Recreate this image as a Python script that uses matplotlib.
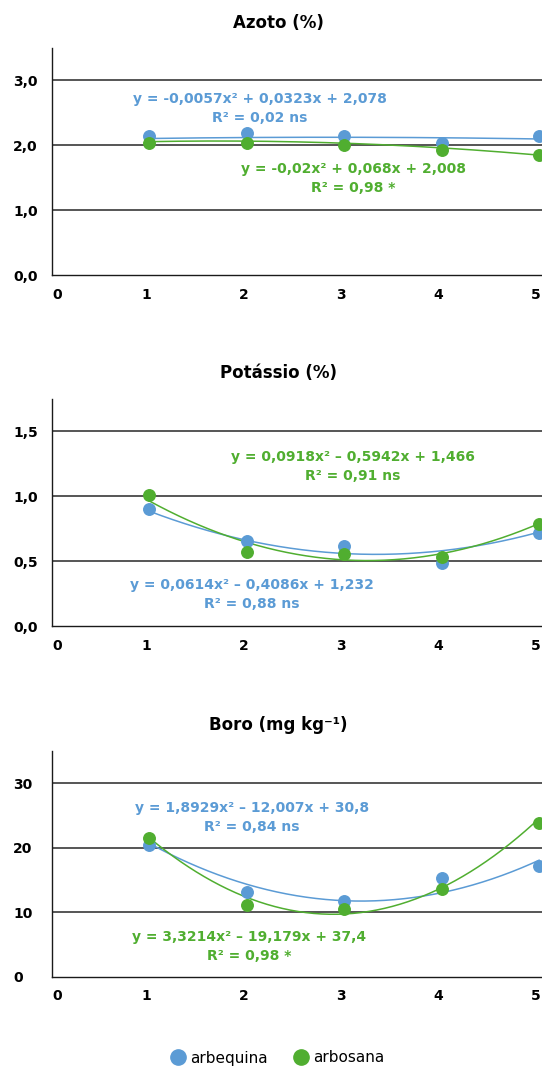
import numpy as np
import matplotlib
matplotlib.use('Agg')
from matplotlib import pyplot as plt
from matplotlib.lines import Line2D
from matplotlib import transforms

plt.rcParams['font.family'] = ['DejaVu Sans']

doses = [1, 2, 3, 4, 5]
x_ticks = [0, 1, 2, 3, 4, 5]

# Azoto (%)
azoto_arbequina = [2.14, 2.19, 2.15, 2.03, 2.14]
azoto_arbosana = [2.03, 2.03, 2.00, 1.92, 1.85]
azoto_coef_arbequina = [-0.0057, 0.0323, 2.078]
azoto_coef_arbosana = [-0.02, 0.068, 2.008]

# Potássio (%)
potassio_arbequina = [0.905, 0.654, 0.618, 0.485, 0.72]
potassio_arbosana = [1.008, 0.567, 0.554, 0.531, 0.79]
potassio_coef_arbequina = [0.0614, -0.4086, 1.232]
potassio_coef_arbosana = [0.0918, -0.5942, 1.466]

# Boro (mg kg-1)
boro_arbequina = [20.4, 13.1, 11.7, 15.4, 17.2]
boro_arbosana = [21.6, 11.1, 10.5, 13.6, 23.9]
boro_coef_arbequina = [1.8929, -12.007, 30.8]
boro_coef_arbosana = [3.3214, -19.179, 37.4]

BLUE = '#5b9bd5'
GREEN = '#50ae30'

fig = plt.figure(figsize=(5.42, 10.66), dpi=100)

panels = [
    dict(title="Azoto (%)", top=48, bottom=275, ylim=(0, 3.5),
         yticks=[0.0, 1.0, 2.0, 3.0], fmt="{:.1f}",
         blue=azoto_arbequina, green=azoto_arbosana,
         cb=azoto_coef_arbequina, cg=azoto_coef_arbosana,
         tb="y = -0,0057x² + 0,0323x + 2,078\nR² = 0,02 ns", pb=(2.13, 2.56),
         tg="y = -0,02x² + 0,068x + 2,008\nR² = 0,98 *", pg=(3.09, 1.49),
         ty=22.7),
    dict(title="Potássio (%)", top=399, bottom=626, ylim=(0, 1.75),
         yticks=[0.0, 0.5, 1.0, 1.5], fmt="{:.1f}",
         blue=potassio_arbequina, green=potassio_arbosana,
         cb=potassio_coef_arbequina, cg=potassio_coef_arbosana,
         tb="y = 0,0614x² – 0,4086x + 1,232\nR² = 0,88 ns", pb=(2.05, 0.244),
         tg="y = 0,0918x² – 0,5942x + 1,466\nR² = 0,91 ns", pg=(3.09, 1.23),
         ty=373.3),
    dict(title="Boro (mg kg⁻¹)", top=751, bottom=977, ylim=(0, 35),
         yticks=[0, 10, 20, 30], fmt="{:d}",
         blue=boro_arbequina, green=boro_arbosana,
         cb=boro_coef_arbequina, cg=boro_coef_arbosana,
         tb="y = 1,8929x² – 12,007x + 30,8\nR² = 0,84 ns", pb=(2.05, 24.77),
         tg="y = 3,3214x² – 19,179x + 37,4\nR² = 0,98 *", pg=(2.02, 4.74),
         ty=725),
]

H = 1066.0
left = 52 / 542.0
xs = np.linspace(doses[0], doses[-1], 200)
shift_left = transforms.ScaledTranslation(-3 / 100.0, 0, fig.dpi_scale_trans)

for p in panels:
    ax = fig.add_axes([left, 1 - p['bottom'] / H, 1 - left, (p['bottom'] - p['top']) / H])
    ax.set_xlim(0, 5.03)
    ax.set_ylim(*p['ylim'])
    for yv in p['yticks'][1:]:
        ax.axhline(yv, color='#383838', lw=1.2, zorder=1)

    ax.plot(xs, np.polyval(p['cb'], xs), color=BLUE, lw=1.1, zorder=2, clip_on=False)
    ax.plot(xs, np.polyval(p['cg'], xs), color=GREEN, lw=1.1, zorder=2, clip_on=False)
    ax.plot(doses, p['blue'], 'o', color=BLUE, ms=8.3, zorder=3, clip_on=False)
    ax.plot(doses, p['green'], 'o', color=GREEN, ms=8.3, zorder=3, clip_on=False)

    ax.text(p['pb'][0], p['pb'][1], p['tb'], color=BLUE, fontsize=10, fontweight='bold',
            ha='center', va='center', multialignment='center', linespacing=1.45)
    ax.text(p['pg'][0], p['pg'][1], p['tg'], color=GREEN, fontsize=10, fontweight='bold',
            ha='center', va='center', multialignment='center', linespacing=1.45)

    for s in ['top', 'right']:
        ax.spines[s].set_visible(False)
    ax.spines['left'].set_color('#1a1a1a')
    ax.spines['bottom'].set_color('#1a1a1a')
    ax.spines['left'].set_linewidth(1.0)
    ax.spines['bottom'].set_linewidth(1.0)

    ax.set_yticks(p['yticks'])
    ax.set_yticklabels([p['fmt'].format(v).replace('.', ',') for v in p['yticks']],
                       fontsize=10, fontweight='bold')
    ax.tick_params(axis='y', length=0, pad=28)
    for lbl in ax.get_yticklabels():
        lbl.set_horizontalalignment('left')

    ax.set_xticks(x_ticks)
    ax.set_xticklabels([str(v) for v in x_ticks], fontsize=10, fontweight='bold')
    ax.tick_params(axis='x', length=0, pad=9)
    for i, lbl in enumerate(ax.get_xticklabels()):
        if i == 0:
            lbl.set_horizontalalignment('left')
        else:
            lbl.set_transform(lbl.get_transform() + shift_left)

    fig.text(0.513, 1 - p['ty'] / H, p['title'], fontsize=12, fontweight='bold',
             ha='center', va='center')

handles = [Line2D([], [], ls='none', marker='o', color=BLUE, ms=11),
           Line2D([], [], ls='none', marker='o', color=GREEN, ms=11)]
fig.legend(handles, ['arbequina', 'arbosana'], loc='center', bbox_to_anchor=(0.512, 1 - 1058 / H),
           ncol=2, frameon=False, fontsize=11, handletextpad=0.3, columnspacing=1.7,
           handlelength=1.0, borderpad=0)

plt.savefig('out.png', dpi=100)
